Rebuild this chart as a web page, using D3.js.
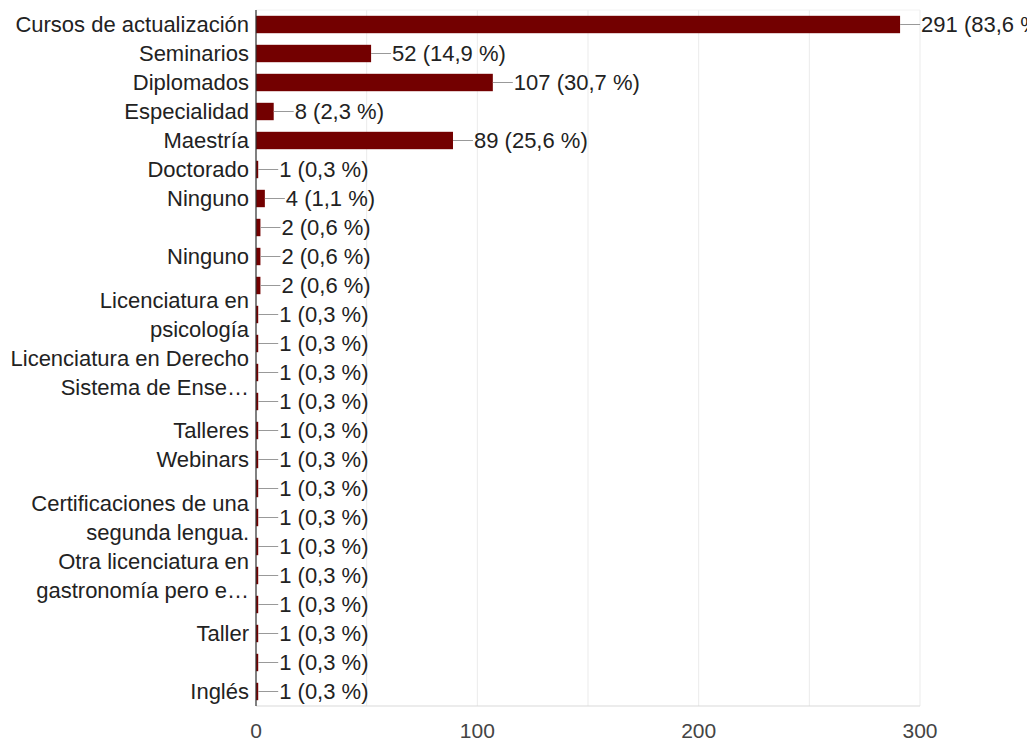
<!DOCTYPE html>
<html><head><meta charset="utf-8">
<script src="https://cdn.jsdelivr.net/npm/d3@7"></script>
<style>body{margin:0;background:#fff}svg{display:block;font-family:"Liberation Sans",Arial,sans-serif}</style>
</head><body>
<svg id="c" width="1027" height="740"></svg>
<script>
// Row labels (each row may show 0, 1 or 2 lines; empty = label hidden)
const categories = [
  ["Cursos de actualización"], ["Seminarios"], ["Diplomados"], ["Especialidad"],
  ["Maestría"], ["Doctorado"], ["Ninguno"], [], ["Ninguno"], [],
  ["Licenciatura en", "psicología"], [], ["Licenciatura en Derecho", "Sistema de Ense…"], [],
  ["Talleres"], ["Webinars"], [], ["Certificaciones de una", "segunda lengua."], [],
  ["Otra licenciatura en", "gastronomía pero e…"], [], ["Taller"], [], ["Inglés"]
];
const values = [291, 52, 107, 8, 89, 1, 4, 2, 2, 2, 1, 1, 1, 1, 1, 1, 1, 1, 1, 1, 1, 1, 1, 1];
const percents = ["83,6", "14,9", "30,7", "2,3", "25,6", "0,3", "1,1", "0,6", "0,6", "0,6",
  "0,3", "0,3", "0,3", "0,3", "0,3", "0,3", "0,3", "0,3", "0,3", "0,3", "0,3", "0,3", "0,3", "0,3"];
const xTicks = [0, 100, 200, 300];
const xGrid = [0, 50, 100, 150, 200, 250, 300];

(function () {
const svg = d3.select("#c");
const pL = 256, pR = 920, pT = 10, pB = 706;
const x = d3.scaleLinear().domain([0, 300]).range([pL, pR]);
const y = d3.scaleBand().domain(d3.range(values.length)).range([pT, pB]).paddingInner(0.4).paddingOuter(0.2);
const yc = i => y(i) + y.bandwidth() / 2;

// gridlines
svg.append("g").selectAll("line").data(xGrid).join("line")
  .attr("x1", d => x(d)).attr("x2", d => x(d)).attr("y1", pT).attr("y2", pB)
  .attr("stroke", "#ebebeb").attr("stroke-width", 1);
svg.append("line").attr("x1", pL).attr("x2", pR).attr("y1", pT).attr("y2", pT).attr("stroke", "#f2f2f2");
svg.append("line").attr("x1", pL).attr("x2", pR).attr("y1", pB).attr("y2", pB).attr("stroke", "#d9d9d9");

// bars
svg.append("g").selectAll("rect").data(values).join("rect")
  .attr("x", x(0)).attr("y", (d, i) => y(i))
  .attr("width", d => x(d) - x(0)).attr("height", y.bandwidth())
  .attr("fill", "#730000");

// leader lines & value labels
const lab = svg.append("g");
lab.selectAll("line").data(values).join("line")
  .attr("x1", d => x(d)).attr("x2", d => x(d) + 20)
  .attr("y1", (d, i) => yc(i)).attr("y2", (d, i) => yc(i))
  .attr("stroke", "#999").attr("stroke-width", 1);
lab.selectAll("text").data(values).join("text")
  .attr("x", d => x(d) + 21).attr("y", (d, i) => yc(i))
  .attr("dy", "0.36em").attr("font-size", 22).attr("fill", "#222")
  .text((d, i) => `${d} (${percents[i]} %)`);

// axis line
svg.append("line").attr("x1", pL).attr("x2", pL).attr("y1", pT).attr("y2", pB).attr("stroke", "#333").attr("stroke-width", 1.2);

// category labels
const step = y.step();
const cat = svg.append("g");
categories.forEach((lines, i) => {
  const n = lines.length;
  lines.forEach((t, j) => {
    cat.append("text").attr("x", pL - 7)
      .attr("y", yc(i) + (j - (n - 1) / 2) * step)
      .attr("dy", "0.36em").attr("text-anchor", "end")
      .attr("font-size", 22).attr("fill", "#222").text(t);
  });
});

// x axis tick labels
svg.append("g").selectAll("text").data(xTicks).join("text")
  .attr("x", d => x(d)).attr("y", 730).attr("dy", "0.36em")
  .attr("text-anchor", "middle").attr("font-size", 21).attr("fill", "#444")
  .text(d => d);
})();
</script>
</body></html>
